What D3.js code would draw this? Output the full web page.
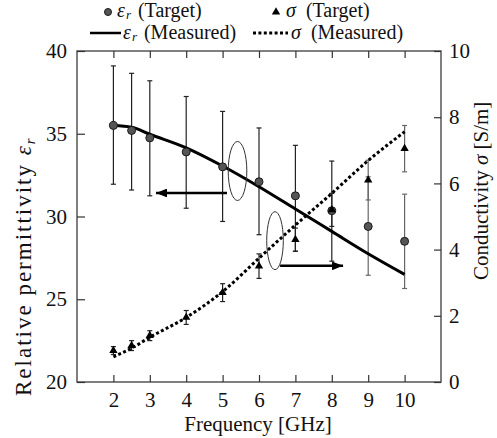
<!DOCTYPE html>
<html>
<head>
<meta charset="utf-8">
<script src="https://cdn.jsdelivr.net/npm/d3@7/dist/d3.min.js"></script>
<style>
  body { margin: 0; background: #fff; }
</style>
</head>
<body>
<svg id="chart"></svg>
<script>
/* global d3 */

// frequencies of the target points [GHz]
var freq = [2, 2.5, 3, 4, 5, 6, 7, 8, 9, 10];

// relative permittivity, target and its error bar limits
var epsTarget = [35.5, 35.2, 34.75, 33.9, 33.0, 32.1, 31.25, 30.35, 29.4, 28.5];
var epsHigh   = [39.1, 38.65, 38.2, 37.25, 36.35, 35.35, 34.3, 33.35, 32.4, 31.35];
var epsLow    = [31.95, 31.6, 31.25, 30.5, 29.7, 28.9, 27.9, 27.3, 26.45, 25.65];

// conductivity target [S/m] and +/- error
var sigmaTarget = [0.95, 1.1, 1.4, 1.95, 2.7, 3.5, 4.3, 5.2, 6.1, 7.05];
var sigmaErr    = [0.12, 0.15, 0.15, 0.21, 0.27, 0.37, 0.35, 0.5, 0.6, 0.7];

// measured curves
var measFreq      = [2, 2.5, 3, 4, 5, 6, 7, 8, 9, 10];
var epsMeasured   = [35.5, 35.4, 34.97, 34.15, 33.05, 31.8, 30.45, 29.1, 27.75, 26.5];
var sigmaMeasured = [0.76, 1.02, 1.35, 1.95, 2.73, 3.74, 4.74, 5.7, 6.69, 7.56];

// ticks
var freqTicks = [2, 3, 4, 5, 6, 7, 8, 9, 10];
var epsTicks = [20, 25, 30, 35, 40];
var sigmaTicks = [0, 2, 4, 6, 8, 10];

var FONT = "Liberation Serif";

var width = 497, height = 438,
  margin = { top: 51, right: 56, bottom: 56, left: 77 };

var svg = d3.select("#chart")
  .attr("width", width)
  .attr("height", height);

var x = d3.scaleLinear().domain([1, 11]).range([margin.left, width - margin.right]);
var yL = d3.scaleLinear().domain([20, 40]).range([height - margin.bottom, margin.top]);
var yR = d3.scaleLinear().domain([0, 10]).range([height - margin.bottom, margin.top]);

// frame
svg.append("rect")
  .attr("x", x.range()[0])
  .attr("y", yL.range()[1])
  .attr("width", x.range()[1] - x.range()[0])
  .attr("height", yL.range()[0] - yL.range()[1])
  .attr("fill", "none")
  .attr("stroke", "#555")
  .attr("stroke-width", 1.5);

function styleAxis(g) {
  g.attr("font-family", FONT).attr("font-size", 21);
  g.select(".domain").remove();
  g.selectAll(".tick line").attr("stroke", "#333").attr("stroke-width", 1.2);
  g.selectAll(".tick text").attr("fill", "#111");
}

svg.append("g")
  .attr("transform", "translate(" + x.range()[0] + ",0)")
  .call(d3.axisLeft(yL).tickValues(epsTicks).tickSize(-8).tickPadding(10))
  .call(styleAxis);

svg.append("g")
  .attr("transform", "translate(" + x.range()[1] + ",0)")
  .call(d3.axisRight(yR).tickValues(sigmaTicks).tickSize(-7).tickPadding(8))
  .call(styleAxis);

svg.append("g")
  .attr("transform", "translate(0," + yL.range()[0] + ")")
  .call(d3.axisBottom(x).tickValues(freqTicks).tickSize(-7).tickPadding(10))
  .call(styleAxis);

svg.append("g")
  .attr("transform", "translate(0," + yL.range()[1] + ")")
  .call(d3.axisTop(x).tickValues(freqTicks).tickSize(-7).tickFormat(""))
  .call(styleAxis);

// axis titles
svg.append("text")
  .attr("transform", "translate(31,396) rotate(-90)")
  .attr("font-family", FONT)
  .attr("font-size", 23)
  .attr("letter-spacing", 2)
  .attr("fill", "#111")
  .call(function (t) {
    t.append("tspan").text("Relative permittivity ");
    t.append("tspan").attr("font-style", "italic").text("ε");
    t.append("tspan").attr("font-style", "italic").attr("font-size", 15).attr("dy", 4).text("r");
  });

svg.append("text")
  .attr("transform", "translate(488,280) rotate(-90)")
  .attr("font-family", FONT)
  .attr("font-size", 21)
  .attr("fill", "#111")
  .call(function (t) {
    t.append("tspan").text("Conductivity ");
    t.append("tspan").attr("font-style", "italic").text("σ");
    t.append("tspan").text(" [S/m]");
  });

svg.append("text")
  .attr("x", 258)
  .attr("y", 431)
  .attr("text-anchor", "middle")
  .attr("font-family", FONT)
  .attr("font-size", 21)
  .attr("fill", "#111")
  .text("Frequency [GHz]");

// error bars
var cap = 2.5;
function errorBar(g, xv, top, bottom, color) {
  g.append("line").attr("x1", xv).attr("x2", xv).attr("y1", top).attr("y2", bottom)
    .attr("stroke", color).attr("stroke-width", 1.2);
  [top, bottom].forEach(function (yy) {
    g.append("line").attr("x1", xv - cap).attr("x2", xv + cap).attr("y1", yy).attr("y2", yy)
      .attr("stroke", color).attr("stroke-width", 1.2);
  });
}

var bars = svg.append("g").attr("class", "errorbars");
freq.forEach(function (f, i) {
  var c = f >= 9 ? "#666" : "#222";
  errorBar(bars, x(f), yL(epsHigh[i]), yL(epsLow[i]), c);
  errorBar(bars, x(f), yR(sigmaTarget[i] + sigmaErr[i]), yR(sigmaTarget[i] - sigmaErr[i]), c);
});

// measured lines
var epsLine = d3.line()
  .x(function (d, i) { return x(measFreq[i]); })
  .y(function (d) { return yL(d); })
  .curve(d3.curveMonotoneX);
var sigmaLine = d3.line()
  .x(function (d, i) { return x(measFreq[i]); })
  .y(function (d) { return yR(d); })
  .curve(d3.curveMonotoneX);

svg.append("path")
  .datum(epsMeasured)
  .attr("d", epsLine)
  .attr("fill", "none")
  .attr("stroke", "#000")
  .attr("stroke-width", 3);

svg.append("path")
  .datum(sigmaMeasured)
  .attr("d", sigmaLine)
  .attr("fill", "none")
  .attr("stroke", "#000")
  .attr("stroke-width", 3)
  .attr("stroke-dasharray", "3,2.4");

// target markers
svg.append("g").selectAll("circle")
  .data(epsTarget)
  .enter().append("circle")
  .attr("cx", function (d, i) { return x(freq[i]); })
  .attr("cy", function (d) { return yL(d); })
  .attr("r", 4)
  .attr("fill", "#555")
  .attr("stroke", "#1a1a1a")
  .attr("stroke-width", 1);

var tri = d3.symbol().type(d3.symbolTriangle).size(30);
svg.append("g").selectAll("path")
  .data(sigmaTarget)
  .enter().append("path")
  .attr("d", tri)
  .attr("transform", function (d, i) { return "translate(" + x(freq[i]) + "," + yR(d) + ")"; })
  .attr("fill", "#000");

// annotations: ellipses and arrows
svg.append("defs").append("marker")
  .attr("id", "head")
  .attr("viewBox", "0 0 10 8")
  .attr("refX", 10).attr("refY", 4)
  .attr("markerWidth", 4.4).attr("markerHeight", 3.4)
  .attr("markerUnits", "strokeWidth")
  .attr("orient", "auto")
  .append("path")
  .attr("d", "M0,0L10,4L0,8Z")
  .attr("fill", "#000");

svg.append("ellipse")
  .attr("cx", x(5.41)).attr("cy", yL(32.75))
  .attr("rx", 9.3).attr("ry", 29.5)
  .attr("fill", "none").attr("stroke", "#333").attr("stroke-width", 1);
svg.append("line")
  .attr("x1", x(5.12)).attr("x2", x(3.17))
  .attr("y1", yL(31.42)).attr("y2", yL(31.42))
  .attr("stroke", "#000").attr("stroke-width", 2.6)
  .attr("marker-end", "url(#head)");

svg.append("ellipse")
  .attr("cx", x(6.44)).attr("cy", yR(4.27))
  .attr("rx", 8.3).attr("ry", 29)
  .attr("fill", "none").attr("stroke", "#333").attr("stroke-width", 1);
svg.append("line")
  .attr("x1", x(6.58)).attr("x2", x(8.31))
  .attr("y1", yR(3.51)).attr("y2", yR(3.51))
  .attr("stroke", "#000").attr("stroke-width", 2.6)
  .attr("marker-end", "url(#head)");

// legend
var legend = svg.append("g").attr("class", "legend")
  .attr("font-family", FONT).attr("font-size", 20).attr("fill", "#111");

legend.append("circle").attr("cx", 108).attr("cy", 12).attr("r", 3.5)
  .attr("fill", "#555").attr("stroke", "#1a1a1a");
legend.append("path").attr("d", tri).attr("transform", "translate(276,12)").attr("fill", "#000");
legend.append("line").attr("x1", 90).attr("x2", 121).attr("y1", 33).attr("y2", 33)
  .attr("stroke", "#000").attr("stroke-width", 2.5);
legend.append("line").attr("x1", 253).attr("x2", 288).attr("y1", 33).attr("y2", 33)
  .attr("stroke", "#000").attr("stroke-width", 3).attr("stroke-dasharray", "3,2.4");

function legendText(xx, yy, sym, sub, label) {
  var t = legend.append("text").attr("x", xx).attr("y", yy);
  t.append("tspan").attr("font-style", "italic").text(sym);
  if (sub) {
    t.append("tspan").attr("font-style", "italic").attr("font-size", 13).attr("dx", 1).attr("dy", 1.5).text(sub);
    t.append("tspan").attr("dy", -1.5).attr("dx", 7).text(label);
  } else {
    t.append("tspan").attr("dx", 10).text(label);
  }
}
legendText(117, 17, "ε", "r", "(Target)");
legendText(286, 17, "σ", null, "(Target)");
legendText(123, 39, "ε", "r", "(Measured)");
legendText(291, 39, "σ", null, "(Measured)");
</script>
</body>
</html>
